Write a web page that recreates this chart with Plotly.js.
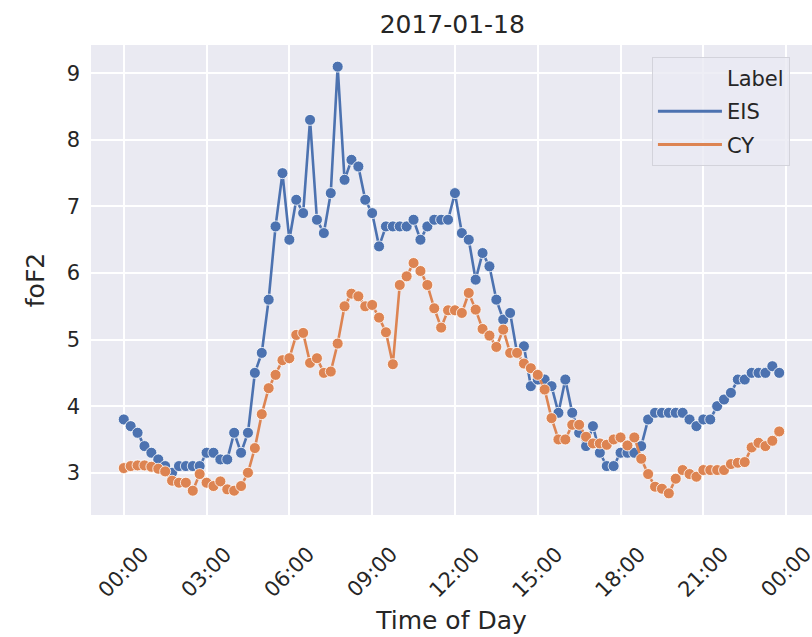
<!DOCTYPE html>
<html>
<head>
<meta charset="utf-8">
<script src="https://cdn.plot.ly/plotly-3.0.1.min.js"></script>
<style>html,body{margin:0;padding:0;background:#fff;}#chart{width:812px;height:637px;}</style>
</head>
<body>
<div id="chart"></div>
<script>
// foF2 values every 15 minutes, 00:00 .. 23:45 on 2017-01-18
const eisValues = [
  3.8, 3.7, 3.6, 3.4, 3.3, 3.2, 3.1, 3.0, 3.1, 3.1, 3.1, 3.1,
  3.3, 3.3, 3.2, 3.2, 3.6, 3.3, 3.6, 4.5, 4.8, 5.6, 6.7, 7.5,
  6.5, 7.1, 6.9, 8.3, 6.8, 6.6, 7.2, 9.1, 7.4, 7.7, 7.6, 7.1,
  6.9, 6.4, 6.7, 6.7, 6.7, 6.7, 6.8, 6.5, 6.7, 6.8, 6.8, 6.8,
  7.2, 6.6, 6.5, 5.9, 6.3, 6.1, 5.6, 5.3, 5.4, 4.8, 4.9, 4.3,
  4.4, 4.4, 4.3, 3.9, 4.4, 3.9, 3.6, 3.4, 3.7, 3.3, 3.1, 3.1,
  3.3, 3.3, 3.3, 3.4, 3.8, 3.9, 3.9, 3.9, 3.9, 3.9, 3.8, 3.7,
  3.8, 3.8, 4.0, 4.1, 4.2, 4.4, 4.4, 4.5, 4.5, 4.5, 4.6, 4.5
];
const cyValues = [
  3.07, 3.10, 3.11, 3.11, 3.09, 3.06, 3.02, 2.88, 2.85, 2.85, 2.73, 2.98,
  2.85, 2.80, 2.87, 2.75, 2.73, 2.80, 3.00, 3.37, 3.88, 4.27, 4.47, 4.69,
  4.72, 5.07, 5.10, 4.65, 4.72, 4.50, 4.52, 4.94, 5.50, 5.69, 5.65, 5.50,
  5.52, 5.33, 5.11, 4.63, 5.82, 5.95, 6.15, 6.03, 5.82, 5.47, 5.18, 5.44,
  5.44, 5.40, 5.70, 5.45, 5.16, 5.06, 4.89, 5.15, 4.80, 4.80, 4.64, 4.57,
  4.47, 4.25, 3.82, 3.50, 3.50, 3.72, 3.72, 3.54, 3.44, 3.44, 3.42, 3.50,
  3.53, 3.41, 3.53, 3.21, 2.98, 2.79, 2.76, 2.69, 2.91, 3.04, 2.98, 2.94,
  3.04, 3.04, 3.04, 3.04, 3.13, 3.15, 3.16, 3.38, 3.45, 3.40, 3.48, 3.62
];
const seriesNames = ["EIS", "CY"];
const legendHeader = "Label";
const tickTimes = ["2017-01-18 00:00", "2017-01-18 03:00", "2017-01-18 06:00", "2017-01-18 09:00",
                   "2017-01-18 12:00", "2017-01-18 15:00", "2017-01-18 18:00", "2017-01-18 21:00", "2017-01-19 00:00"];
const tickLabels = ["00:00", "03:00", "06:00", "09:00", "12:00", "15:00", "18:00", "21:00", "00:00"];
const yTicks = [3, 4, 5, 6, 7, 8, 9];

// sampling timestamps (every 15 minutes)
const times = [];
for (let i = 0; i < eisValues.length; i++) {
  const h = Math.floor(i / 4), m = (i % 4) * 15;
  times.push("2017-01-18 " + String(h).padStart(2, "0") + ":" + String(m).padStart(2, "0"));
}

const colors = ["#4C72B0", "#DD8452"];
const txt = "#262626";
const font = "DejaVu Sans, sans-serif";

const traces = [];
[eisValues, cyValues].forEach((vals, k) => {
  traces.push({
    type: "scatter", mode: "lines+markers", x: times, y: vals,
    line: {color: colors[k], width: 2.6},
    marker: {color: colors[k], size: 11, line: {color: "#ffffff", width: 0.8}},
    showlegend: false, hoverinfo: "skip"
  });
});
// legend entries
traces.push({type: "scatter", mode: "lines", x: [null], y: [null], name: legendHeader,
             legendgroup: "g0", line: {color: "rgba(0,0,0,0)", width: 0}, showlegend: true});
seriesNames.forEach((n, k) => {
  traces.push({type: "scatter", mode: "lines", x: [null], y: [null], name: n,
               legendgroup: "g" + (k + 1), line: {color: colors[k], width: 3}, showlegend: true});
});

const annotations = tickTimes.map((t, k) => ({
  x: t, y: -0.121, xref: "x", yref: "paper", text: tickLabels[k], showarrow: false,
  textangle: -45, xanchor: "center", yanchor: "middle",
  font: {family: font, size: 21, color: txt}
}));

const layout = {
  width: 812, height: 637,
  margin: {l: 91, r: 0, t: 45, b: 122, pad: 0},
  paper_bgcolor: "#ffffff", plot_bgcolor: "#EAEAF2",
  font: {family: font, color: txt, size: 22},
  title: {text: "2017-01-18", font: {family: font, size: 25, color: txt}, x: 0.557, xanchor: "center", y: 0.962, yanchor: "middle"},
  xaxis: {
    type: "date",
    range: ["2017-01-17 22:48:45", "2017-01-19 00:56:15"],
    tickvals: tickTimes, ticktext: tickLabels, showticklabels: false,
    showgrid: true, gridcolor: "#ffffff", gridwidth: 2, zeroline: false, showline: false, ticks: "",
    title: {text: "Time of Day", font: {family: font, size: 25, color: txt}, standoff: 96},
    automargin: false
  },
  yaxis: {
    range: [2.365, 9.425], tickvals: yTicks, ticktext: yTicks.map(String),
    showgrid: true, gridcolor: "#ffffff", gridwidth: 2, zeroline: false, showline: false, ticks: "",
    tickfont: {family: font, size: 21, color: txt}, ticklabelstandoff: 10,
    title: {text: "foF2", font: {family: font, size: 25, color: txt}, standoff: 14},
    automargin: false
  },
  legend: {
    x: 0.778, y: 0.975, xanchor: "left", yanchor: "top",
    bgcolor: "rgba(234,234,242,0.8)", bordercolor: "#d3d3db", borderwidth: 1,
    font: {family: font, size: 21, color: txt}, tracegroupgap: 3, traceorder: "grouped",
    itemwidth: 64
  },
  annotations: annotations,
  showlegend: true
};

Plotly.newPlot("chart", traces, layout, {staticPlot: true, displayModeBar: false});
</script>
</body>
</html>
